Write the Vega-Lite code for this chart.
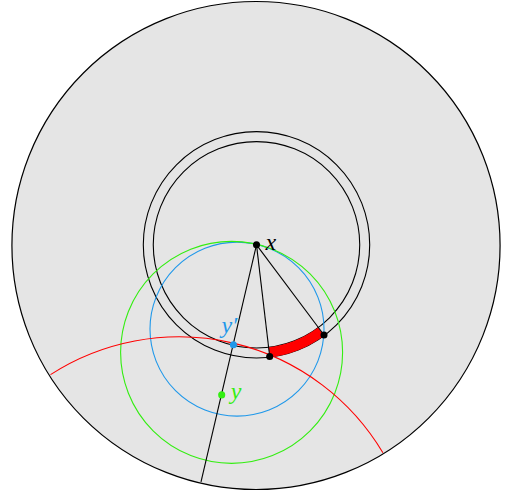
{
  "$schema": "https://vega.github.io/schema/vega-lite/v6.json",
  "width": 506,
  "height": 495,
  "padding": 0,
  "autosize": {"type": "fit", "contains": "padding"},
  "background": "white",
  "config": {"view": {"stroke": null}},
  "encoding": {
    "x": {"field": "x", "type": "quantitative", "scale": {"domain": [-256.5, 249.5], "nice": false, "zero": false}, "axis": null},
    "y": {"field": "y", "type": "quantitative", "scale": {"domain": [-251.7, 243.3], "nice": false, "zero": false}, "axis": null}
  },
  "layer": [
    {
      "data": {"values": [{"x": -0.5, "y": -0.7, "r": 244}]},
      "mark": {"type": "arc", "theta": 0, "theta2": 6.2832, "fill": "#e5e5e5", "stroke": "black", "strokeWidth": 1.2},
      "encoding": {"radius": {"field": "r", "type": "quantitative", "stack": null, "scale": {"type": "linear", "domain": [0, 300], "range": [0, 300], "zero": true}}}
    },
    {
      "data": {"values": [{"x": 0, "y": 0, "r": 113.2}, {"x": 0, "y": 0, "r": 103.2}]},
      "mark": {"type": "arc", "theta": 0, "theta2": 6.2832, "filled": false, "stroke": "black", "strokeWidth": 1.1},
      "encoding": {"radius": {"field": "r", "type": "quantitative", "stack": null, "scale": {"type": "linear", "domain": [0, 300], "range": [0, 300], "zero": true}}}
    },
    {
      "data": {"values": [{"x": 0, "y": 0, "r": 113.2, "r0": 103.2, "a0": 143.34, "a1": 173.3}]},
      "mark": {"type": "arc", "fill": "#ff0000", "stroke": null},
      "encoding": {
        "radius": {"field": "r", "type": "quantitative", "stack": null, "scale": {"type": "linear", "domain": [0, 300], "range": [0, 300], "zero": true}},
        "radius2": {"field": "r0"},
        "theta": {"field": "a0", "type": "quantitative", "stack": null, "scale": {"type": "linear", "domain": [0, 360], "range": [0, 6.283185]}},
        "theta2": {"field": "a1"}
      }
    },
    {
      "data": {"values": [{"x": -19.5, "y": -84.8, "r": 87}]},
      "mark": {"type": "arc", "theta": 0, "theta2": 6.2832, "filled": false, "stroke": "#1f98ea", "strokeWidth": 1.1},
      "encoding": {"radius": {"field": "r", "type": "quantitative", "stack": null, "scale": {"type": "linear", "domain": [0, 300], "range": [0, 300], "zero": true}}}
    },
    {
      "data": {"values": [{"x": -24.9, "y": -108.2, "r": 111}]},
      "mark": {"type": "arc", "theta": 0, "theta2": 6.2832, "filled": false, "stroke": "#33ee11", "strokeWidth": 1.1},
      "encoding": {"radius": {"field": "r", "type": "quantitative", "stack": null, "scale": {"type": "linear", "domain": [0, 300], "range": [0, 300], "zero": true}}}
    },
    {
      "data": {"values": [{"x": -77.5, "y": -331.3, "r": 237.3, "r0": 237.3, "a0": -32.78, "a1": 59.23}]},
      "mark": {"type": "arc", "filled": false, "stroke": "#ff0000", "strokeWidth": 1.1},
      "encoding": {
        "radius": {"field": "r", "type": "quantitative", "stack": null, "scale": {"type": "linear", "domain": [0, 300], "range": [0, 300], "zero": true}},
        "radius2": {"field": "r0"},
        "theta": {"field": "a0", "type": "quantitative", "stack": null, "scale": {"type": "linear", "domain": [0, 360], "range": [0, 6.283185]}},
        "theta2": {"field": "a1"}
      }
    },
    {
      "data": {"values": [
        {"x": 0, "y": 0, "x2": 13.2, "y2": -112.4},
        {"x": 0, "y": 0, "x2": 67.5, "y2": -90.7},
        {"x": 0, "y": 0, "x2": -55.5, "y2": -238.4}
      ]},
      "mark": {"type": "rule", "color": "black", "strokeWidth": 1.1},
      "encoding": {"x2": {"field": "x2"}, "y2": {"field": "y2"}}
    },
    {
      "data": {"values": [{"x": 0, "y": 0}, {"x": 13.2, "y": -112.4}, {"x": 67.5, "y": -90.7}]},
      "mark": {"type": "point", "filled": true, "color": "black", "size": 50, "opacity": 1}
    },
    {
      "data": {"values": [{"x": -23.1, "y": -100.6}]},
      "mark": {"type": "point", "filled": true, "color": "#1f98ea", "size": 50, "opacity": 1}
    },
    {
      "data": {"values": [{"x": -34.8, "y": -151.0}]},
      "mark": {"type": "point", "filled": true, "color": "#33ee11", "size": 50, "opacity": 1}
    },
    {
      "data": {"values": [{"x": 0, "y": 0, "label": "x"}]},
      "mark": {"type": "text", "font": "Liberation Serif", "fontStyle": "italic", "fontSize": 24, "align": "left", "baseline": "middle", "dx": 9, "dy": -2, "color": "black"},
      "encoding": {"text": {"field": "label"}}
    },
    {
      "data": {"values": [{"x": -23.1, "y": -100.6, "label": "y′"}]},
      "mark": {"type": "text", "font": "Liberation Serif", "fontStyle": "italic", "fontSize": 24, "align": "center", "baseline": "middle", "dx": -4, "dy": -19, "color": "#1f98ea"},
      "encoding": {"text": {"field": "label"}}
    },
    {
      "data": {"values": [{"x": -34.8, "y": -151.0, "label": "y"}]},
      "mark": {"type": "text", "font": "Liberation Serif", "fontStyle": "italic", "fontSize": 24, "align": "left", "baseline": "middle", "dx": 9, "dy": -3, "color": "#33ee11"},
      "encoding": {"text": {"field": "label"}}
    }
  ]
}
